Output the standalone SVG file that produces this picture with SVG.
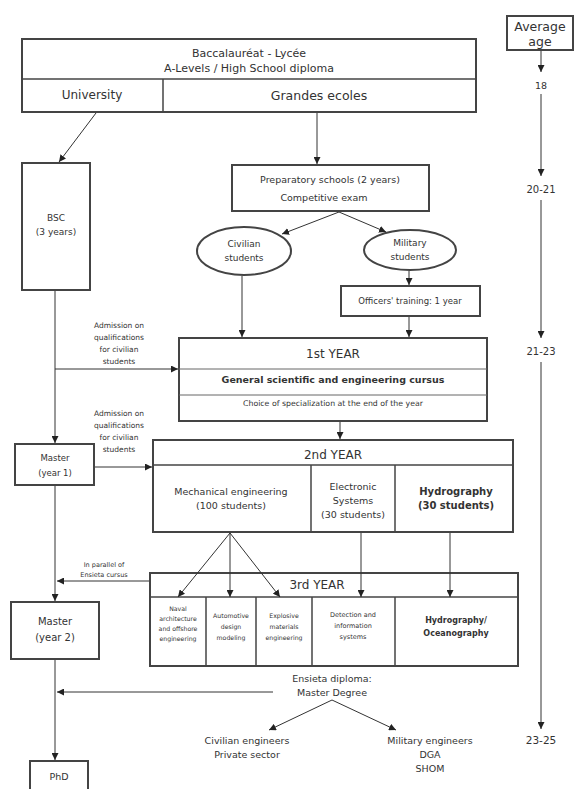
<svg xmlns="http://www.w3.org/2000/svg" width="575" height="789" viewBox="0 0 575 789">
<defs>
<marker id="arr" viewBox="0 0 10 10" refX="10" refY="5" markerWidth="7" markerHeight="7" markerUnits="userSpaceOnUse" orient="auto">
<path d="M0,0 L10,5 L0,10 z" fill="#222"/>
</marker>
</defs>
<style>
text{font-family:"DejaVu Sans","Liberation Sans",sans-serif;fill:#333;text-anchor:middle;dominant-baseline:central}
.box{fill:#fff;stroke:#444;stroke-width:2}
.div{stroke:#444;stroke-width:1.5;fill:none}
.thin{stroke:#666;stroke-width:1;fill:none}
.con{stroke:#333;stroke-width:1;fill:none;marker-end:url(#arr)}
.b{font-weight:bold}
</style>
<rect width="575" height="789" fill="#fff"/>
<g id="age-box">
<rect class="box" x="507" y="16" width="66" height="34"/>
<text x="540" y="26" font-size="12.5">Average</text>
<text x="540" y="41" font-size="12.5">age</text>
</g>
<g id="ages">
<text x="541" y="85" font-size="9.5">18</text>
<text x="541" y="189" font-size="10">20-21</text>
<text x="541" y="351" font-size="10">21-23</text>
<text x="541" y="740" font-size="10.5">23-25</text>
</g>
<g id="bac">
<rect class="box" x="22" y="39" width="454" height="73"/>
<line class="div" x1="22" y1="79" x2="476" y2="79"/>
<line class="div" x1="163" y1="79" x2="163" y2="112"/>
<text x="249" y="53" font-size="11">Baccalauréat - Lycée</text>
<text x="249" y="68" font-size="11">A-Levels / High School diploma</text>
<text x="92" y="95" font-size="12">University</text>
<text x="319" y="95" font-size="12.5">Grandes ecoles</text>
</g>
<g id="bsc">
<rect class="box" x="22" y="163" width="68" height="127"/>
<text x="56" y="218" font-size="9">BSC</text>
<text x="56" y="232" font-size="9">(3 years)</text>
</g>
<g id="prep">
<rect class="box" x="232" y="165" width="197" height="46"/>
<text x="330" y="179" font-size="9.5">Preparatory schools (2 years)</text>
<text x="324" y="197" font-size="9.5">Competitive exam</text>
</g>
<g id="civilian">
<ellipse class="box" cx="244" cy="251" rx="47" ry="24"/>
<text x="244" y="244" font-size="9">Civilian</text>
<text x="244" y="258" font-size="9">students</text>
</g>
<g id="military">
<ellipse class="box" cx="410" cy="250" rx="46" ry="20"/>
<text x="410" y="243" font-size="9">Military</text>
<text x="410" y="257" font-size="9">students</text>
</g>
<g id="officers">
<rect class="box" x="341" y="286" width="139" height="30"/>
<text x="410" y="301" font-size="8.5">Officers' training: 1 year</text>
</g>
<g id="admission1">
<text x="119" y="325" font-size="7.5">Admission on</text>
<text x="119" y="337" font-size="7.5">qualifications</text>
<text x="119" y="349" font-size="7.5">for civilian</text>
<text x="119" y="361" font-size="7.5">students</text>
</g>
<g id="year1">
<rect class="box" x="179" y="338" width="308" height="83"/>
<line class="thin" x1="179" y1="369" x2="487" y2="369"/>
<line class="thin" x1="179" y1="395" x2="487" y2="395"/>
<text x="333" y="354" font-size="12">1st YEAR</text>
<text x="333" y="379" font-size="9.5" class="b">General scientific and engineering cursus</text>
<text x="333" y="403" font-size="7.8">Choice of specialization at the end of the year</text>
</g>
<g id="admission2">
<text x="119" y="413" font-size="7.5">Admission on</text>
<text x="119" y="425" font-size="7.5">qualifications</text>
<text x="119" y="437" font-size="7.5">for civilian</text>
<text x="119" y="449" font-size="7.5">students</text>
</g>
<g id="master1">
<rect class="box" x="15" y="444" width="79" height="41"/>
<text x="55" y="458" font-size="8.5">Master</text>
<text x="55" y="473" font-size="8.5">(year 1)</text>
</g>
<g id="year2">
<rect class="box" x="153" y="440" width="360" height="92"/>
<line class="div" x1="153" y1="465" x2="513" y2="465"/>
<line class="div" x1="311" y1="465" x2="311" y2="532"/>
<line class="div" x1="395" y1="465" x2="395" y2="532"/>
<text x="333" y="455" font-size="12">2nd YEAR</text>
<text x="231" y="491" font-size="9.5">Mechanical engineering</text>
<text x="231" y="505" font-size="9.5">(100 students)</text>
<text x="353" y="486" font-size="9.5">Electronic</text>
<text x="353" y="500" font-size="9.5">Systems</text>
<text x="353" y="514" font-size="9.5">(30 students)</text>
<text x="456" y="491" font-size="10" class="b">Hydrography</text>
<text x="456" y="505" font-size="10" class="b">(30 students)</text>
</g>
<g id="parallel">
<text x="104" y="565" font-size="6.5">In parallel of</text>
<text x="104" y="575" font-size="6.5">Ensieta cursus</text>
</g>
<g id="year3">
<rect class="box" x="150" y="573" width="368" height="93"/>
<line class="div" x1="150" y1="597" x2="518" y2="597"/>
<line class="div" x1="206" y1="597" x2="206" y2="666"/>
<line class="div" x1="256" y1="597" x2="256" y2="666"/>
<line class="div" x1="312" y1="597" x2="312" y2="666"/>
<line class="div" x1="395" y1="597" x2="395" y2="666"/>
<text x="317" y="585" font-size="12">3rd YEAR</text>
<text x="178" y="608" font-size="6.2">Naval</text>
<text x="178" y="618" font-size="6.2">architecture</text>
<text x="178" y="628" font-size="6.2">and offshore</text>
<text x="178" y="638" font-size="6.2">engineering</text>
<text x="231" y="615" font-size="6.2">Automotive</text>
<text x="231" y="626" font-size="6.2">design</text>
<text x="231" y="637" font-size="6.2">modeling</text>
<text x="284" y="615" font-size="6.2">Explosive</text>
<text x="284" y="626" font-size="6.2">materials</text>
<text x="284" y="637" font-size="6.2">engineering</text>
<text x="353" y="615" font-size="6.5">Detection and</text>
<text x="353" y="626" font-size="6.5">information</text>
<text x="353" y="637" font-size="6.5">systems</text>
<text x="456" y="620" font-size="8" class="b">Hydrography/</text>
<text x="456" y="633" font-size="8" class="b">Oceanography</text>
</g>
<g id="master2">
<rect class="box" x="11" y="602" width="88" height="57"/>
<text x="55" y="621" font-size="10">Master</text>
<text x="55" y="637" font-size="10">(year 2)</text>
</g>
<g id="ensieta">
<text x="332" y="678" font-size="9.5">Ensieta diploma:</text>
<text x="332" y="692" font-size="9.5">Master Degree</text>
</g>
<g id="civil-eng">
<text x="247" y="740" font-size="9.5">Civilian engineers</text>
<text x="247" y="754" font-size="9.5">Private sector</text>
</g>
<g id="mil-eng">
<text x="430" y="740" font-size="9.5">Military engineers</text>
<text x="430" y="754" font-size="9.5">DGA</text>
<text x="430" y="768" font-size="9.5">SHOM</text>
</g>
<g id="phd">
<rect class="box" x="30" y="761" width="58" height="40"/>
<text x="59" y="776" font-size="9.5">PhD</text>
</g>
<g id="connectors">
<line class="con" x1="96" y1="113" x2="59" y2="162"/>
<line class="con" x1="317" y1="113" x2="317" y2="164"/>
<line class="con" x1="339" y1="212" x2="282" y2="234"/>
<line class="con" x1="339" y1="212" x2="386" y2="232"/>
<line class="con" x1="242" y1="276" x2="242" y2="337"/>
<line class="con" x1="409" y1="271" x2="409" y2="285"/>
<line class="con" x1="409" y1="317" x2="409" y2="337"/>
<line class="con" x1="55" y1="291" x2="55" y2="443"/>
<line class="con" x1="55" y1="369" x2="178" y2="369"/>
<line class="con" x1="340" y1="422" x2="340" y2="439"/>
<line class="con" x1="95" y1="467" x2="152" y2="467"/>
<line class="con" x1="55" y1="486" x2="55" y2="601"/>
<line class="con" x1="149" y1="581" x2="57" y2="581"/>
<line class="con" x1="230" y1="533" x2="178" y2="597"/>
<line class="con" x1="230" y1="533" x2="230" y2="597"/>
<line class="con" x1="230" y1="533" x2="280" y2="597"/>
<line class="con" x1="361" y1="533" x2="361" y2="597"/>
<line class="con" x1="450" y1="533" x2="450" y2="597"/>
<line class="con" x1="273" y1="692" x2="57" y2="692"/>
<line class="con" x1="55" y1="660" x2="55" y2="760"/>
<line class="con" x1="332" y1="700" x2="269" y2="730"/>
<line class="con" x1="332" y1="700" x2="396" y2="730"/>
<line class="con" x1="541" y1="51" x2="541" y2="72"/>
<line class="con" x1="541" y1="94" x2="541" y2="176"/>
<line class="con" x1="541" y1="200" x2="541" y2="338"/>
<line class="con" x1="541" y1="362" x2="541" y2="729"/>
</g>
</svg>
